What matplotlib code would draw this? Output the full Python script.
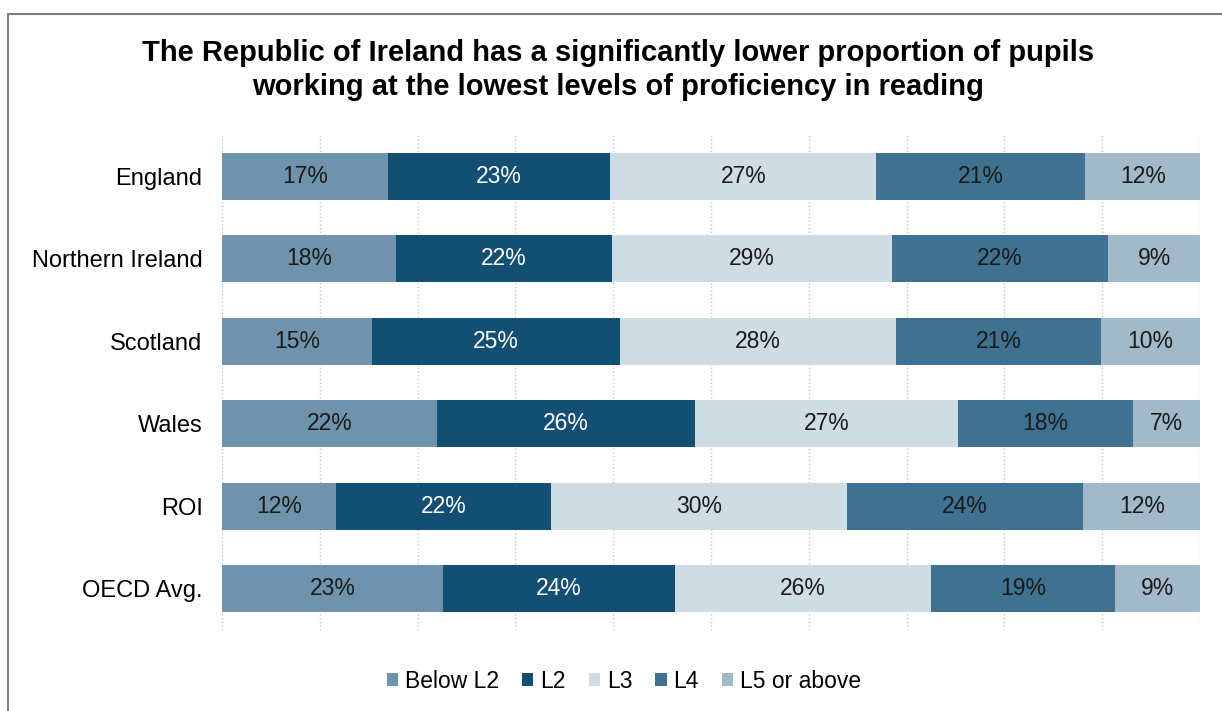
import matplotlib.pyplot as plt
import matplotlib.patches as mpatches
import numpy as np

plt.rcParams['font.family'] = ['Liberation Sans', 'DejaVu Sans']

countries = ['England', 'Northern Ireland', 'Scotland', 'Wales', 'ROI', 'OECD Avg.']
levels = ['Below L2', 'L2', 'L3', 'L4', 'L5 or above']

below_l2 = [17.0, 17.8, 15.3, 22.0, 11.7, 22.6]
l2 = [22.7, 22.1, 25.4, 26.4, 21.9, 23.7]
l3 = [27.2, 28.6, 28.2, 26.9, 30.3, 26.2]
l4 = [21.3, 22.1, 21.0, 17.8, 24.1, 18.8]
l5_above = [11.9, 9.4, 10.1, 7.0, 12.1, 8.8]

colors = ['#6f93ac', '#124f73', '#cfdce4', '#3f7191', '#a2b9ca']
text_colors = ['#1a1a1a', 'white', '#1a1a1a', '#1a1a1a', '#1a1a1a']

title = ('The Republic of Ireland has a significantly lower proportion of pupils\n'
         'working at the lowest levels of proficiency in reading')

fig = plt.figure(figsize=(12.22, 7.11), dpi=100)
ax = fig.add_axes([222 / 1222, 1 - 630 / 711, 978 / 1222, 495 / 711])

# outer frame of the chart area, cut off at right and bottom
fig.patches.append(mpatches.Rectangle((8 / 1222, -0.5), 1.2, 1.5 - 14 / 711,
                                      transform=fig.transFigure, fill=False,
                                      edgecolor='#7f7f7f', linewidth=1.5))

y = np.arange(len(countries))
series = [below_l2, l2, l3, l4, l5_above]
left = np.zeros(len(countries))
for vals, name, c, tc in zip(series, levels, colors, text_colors):
    vals = np.array(vals)
    ax.barh(y, vals, left=left, height=0.57, color=c, label=name, zorder=3)
    for yi, (l, v) in enumerate(zip(left, vals)):
        ax.text(l + v / 2, yi, f'{v:.0f}%', ha='center', va='center',
                color=tc, fontsize=16.5, zorder=4)
    left += vals

ax.set_xlim(0, 100)
ax.set_ylim(len(countries) - 0.5, -0.5)
ax.set_yticks(y)
ax.set_yticklabels(countries, fontsize=17)
ax.tick_params(axis='y', length=0, pad=22 - 8)
ax.set_xticks(np.arange(0, 101, 10))
ax.tick_params(axis='x', length=0, labelbottom=False)
ax.grid(axis='x', color='#c8c8c8', linestyle=':', linewidth=1, zorder=0)
for s in ax.spines.values():
    s.set_visible(False)

fig.text(618 / 1222, 1 - 70 / 711, title, ha='center', va='center',
         fontsize=21, fontweight='bold', linespacing=1.25)

fig.legend(loc='center', bbox_to_anchor=(624 / 1222, 1 - 681 / 711), ncol=5,
           frameon=False, fontsize=16.5, handlelength=0.5, handleheight=0.5,
           handletextpad=0.3, columnspacing=1.0)

plt.savefig('out.png', dpi=100)
